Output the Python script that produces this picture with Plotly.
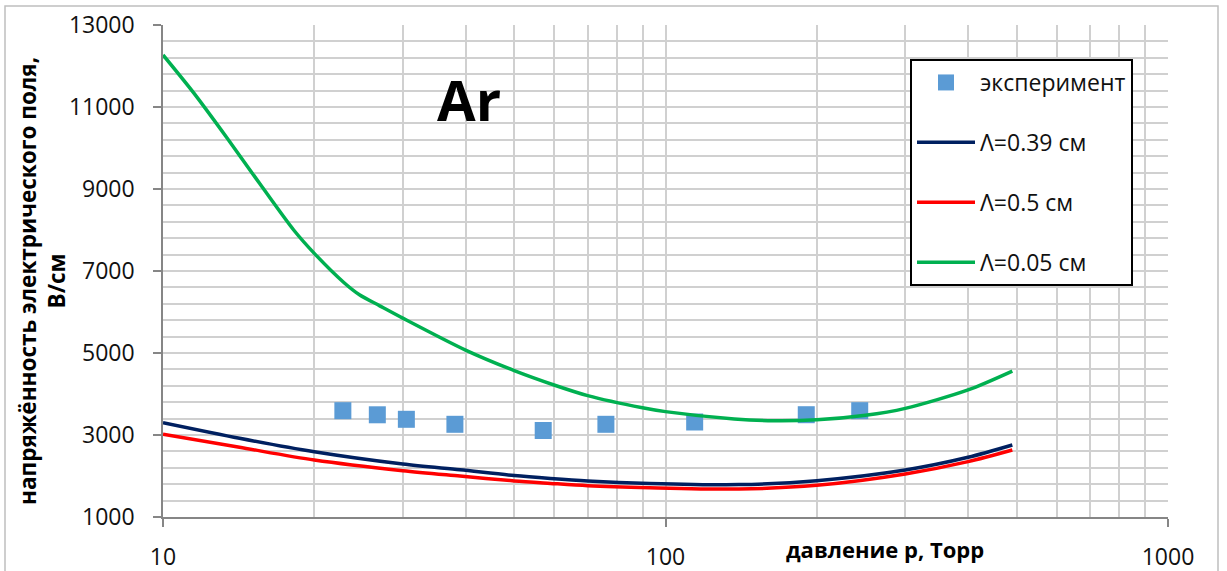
import plotly.graph_objects as go

# Experimental breakdown field in argon
exp_p = [22.8, 26.7, 30.5, 38.1, 57.1, 76.1, 114.3, 190.6, 243.5]
exp_E = [3593, 3493, 3383, 3261, 3110, 3261, 3317, 3495, 3593]

# Calculated curves for different diffusion lengths
p_039 = [10, 14.2, 20, 30, 39, 50, 59, 70, 93, 140, 200, 300, 400, 490]
E_039 = [3300, 2920, 2590, 2290, 2150, 2010, 1940, 1880, 1820, 1790, 1886, 2146, 2456, 2756]

p_05 = [10, 14.2, 20, 30, 39, 50, 59, 70, 93, 140, 200, 300, 400, 490]
E_05 = [3017, 2700, 2390, 2130, 2000, 1880, 1820, 1763, 1715, 1683, 1773, 2049, 2350, 2634]

p_005 = [10, 11.5, 13.4, 15.6, 18.2, 20, 22.9, 24.6, 27, 30, 40, 50, 60, 70,
         90, 100, 137, 160, 200, 250, 300, 400, 490]
E_005 = [12270, 11350, 10250, 9120, 8000, 7430, 6720, 6420, 6150, 5850, 5070,
         4570, 4220, 3960, 3665, 3570, 3390, 3350, 3370, 3480, 3650, 4100, 4560]

FONT = "Open Sans"

fig = go.Figure()
fig.add_trace(go.Scatter(
    x=exp_p, y=exp_E, mode="markers", name="эксперимент",
    marker=dict(symbol="square", size=17, color="#5b9bd5"),
    legendgroup="a"))
fig.add_trace(go.Scatter(
    x=p_039, y=E_039, mode="lines", name="Λ=0.39 см",
    line=dict(color="#002060", width=3.5, shape="spline", smoothing=0.8), legendgroup="b"))
fig.add_trace(go.Scatter(
    x=p_05, y=E_05, mode="lines", name="Λ=0.5 см",
    line=dict(color="#ff0000", width=3.5, shape="spline", smoothing=0.8), legendgroup="c"))
fig.add_trace(go.Scatter(
    x=p_005, y=E_005, mode="lines", name="Λ=0.05 см",
    line=dict(color="#00b050", width=3.5, shape="spline", smoothing=0.8), legendgroup="d"))

grid = "#d0d0d0"
fig.update_xaxes(
    type="log", range=[1, 3], dtick=1, automargin=False,
    showgrid=True, gridcolor=grid, gridwidth=1.5,
    minor=dict(dtick="D1", showgrid=True, gridcolor=grid, gridwidth=1.5, ticks=""),
    showline=True, linecolor="#868686", linewidth=1.5,
    ticks="outside", ticklen=8, tickcolor="#868686", tickwidth=1.5,
    ticklabelstandoff=11,
    tickfont=dict(family=FONT, size=23, color="#111"),
    zeroline=False)
fig.update_yaxes(
    range=[1000, 13000], tick0=1000, dtick=2000, tickformat="d", automargin=False,
    showgrid=True, gridcolor=grid, gridwidth=1.5,
    minor=dict(tick0=1000, dtick=400, showgrid=True, gridcolor=grid, gridwidth=1.5, ticks=""),
    showline=True, linecolor="#868686", linewidth=1.5,
    ticks="outside", ticklen=8, tickcolor="#868686", tickwidth=1.5,
    ticklabelstandoff=14,
    tickfont=dict(family=FONT, size=23, color="#111"),
    zeroline=False)


def px_x(v):
    return (v - 163) / 1005


def px_y(v):
    return (517 - v) / 492


fig.update_layout(
    width=1227, height=571,
    margin=dict(l=163, r=59, t=25, b=54),
    paper_bgcolor="white", plot_bgcolor="white",
    showlegend=True,
    legend=dict(
        x=px_x(910), y=px_y(59), xanchor="left", yanchor="top",
        bgcolor="white", bordercolor="black", borderwidth=2,
        font=dict(family=FONT, size=23, color="#111"),
        tracegroupgap=27, itemwidth=58),
    annotations=[
        dict(text="<b>Ar</b>", x=px_x(469), y=px_y(99), xref="paper", yref="paper",
             xanchor="center", yanchor="middle",
             showarrow=False, font=dict(family=FONT, size=56, color="black")),
        dict(text="<b>давление р, Торр</b>", x=px_x(885), y=px_y(549),
             xref="paper", yref="paper", xanchor="center", yanchor="middle",
             showarrow=False, font=dict(family=FONT, size=22, color="black")),
        dict(text="<b>напряжённость электрического поля,<br>В/см</b>",
             x=px_x(42), y=px_y(281), xref="paper", yref="paper", textangle=-90,
             xanchor="center", yanchor="middle",
             showarrow=False, font=dict(family=FONT, size=22.5, color="black")),
    ],
    shapes=[dict(type="rect", xref="paper", yref="paper",
                 x0=px_x(5), x1=px_x(1218), y0=-0.2, y1=px_y(6),
                 line=dict(color="#bfbfbf", width=1.5), layer="below")],
)

fig.write_html("out.html")
